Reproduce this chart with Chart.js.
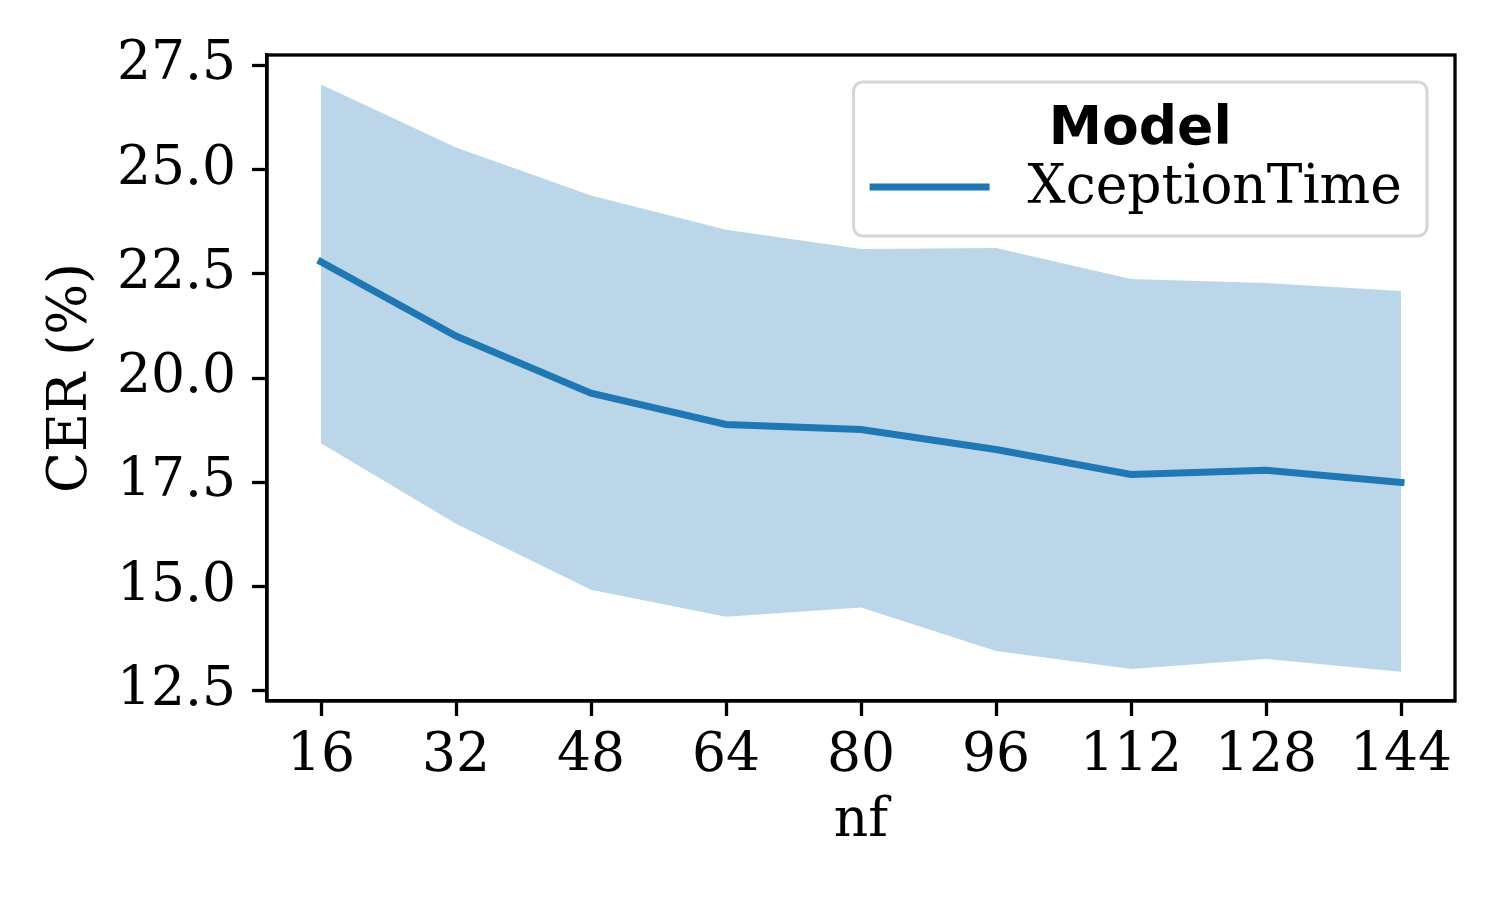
<!DOCTYPE html>
<html>
<head>
<meta charset="utf-8">
<script src="https://cdn.jsdelivr.net/npm/chart.js@4.4.1/dist/chart.umd.min.js"></script>
<style>
  html, body { margin: 0; padding: 0; background: #fff; }
  #wrap { width: 1500px; height: 900px; }
</style>
</head>
<body>
<div id="wrap"><canvas id="cerChart" width="1500" height="900"></canvas></div>
<script>
var nf = [16, 32, 48, 64, 80, 96, 112, 128, 144];
var cerMean = [22.79, 21.01, 19.64, 18.89, 18.77, 18.29, 17.69, 17.79, 17.50];
var cerUpper = [27.04, 25.53, 24.38, 23.56, 23.10, 23.12, 22.38, 22.28, 22.09];
var cerLower = [18.44, 16.51, 14.93, 14.28, 14.50, 13.46, 13.03, 13.27, 12.96];
var yTicks = [12.5, 15.0, 17.5, 20.0, 22.5, 25.0, 27.5];
var seriesName = "XceptionTime";
var legendTitle = "Model";

var serif = '"DejaVu Serif", serif';
var fontPx = 53.5;

function toPoints(values) {
  return nf.map(function (x, i) { return { x: x, y: values[i] }; });
}

// axes frame on top and right side (matplotlib style box)
var frameBox = {
  id: 'frameBox',
  afterDraw: function (chart) {
    var a = chart.chartArea, ctx = chart.ctx;
    ctx.save();
    ctx.lineWidth = 3.3;
    ctx.strokeStyle = '#000';
    ctx.strokeRect(a.left, a.top, a.right - a.left, a.bottom - a.top);
    ctx.restore();
  }
};

// legend box with title, drawn inside the plot, upper right
var boxLegend = {
  id: 'boxLegend',
  afterDatasetsDraw: function (chart) {
    var ctx = chart.ctx, a = chart.chartArea;
    var ds = chart.data.datasets[0];
    ctx.save();
    ctx.font = fontPx + 'px ' + serif;
    var tw = ctx.measureText(ds.label).width;
    var w = 16 + 120 + 38 + tw + 25, h = 154;
    var x = a.right - 28 - w, y = a.top + 27;
    ctx.beginPath();
    ctx.roundRect(x, y, w, h, 9);
    ctx.fillStyle = 'rgba(255,255,255,0.85)';
    ctx.fill();
    ctx.lineWidth = 3;
    ctx.strokeStyle = '#d6d6d6';
    ctx.stroke();

    ctx.fillStyle = '#000';
    ctx.textBaseline = 'middle';
    ctx.font = 'bold ' + fontPx + 'px "DejaVu Sans", sans-serif';
    ctx.textAlign = 'center';
    ctx.fillText(legendTitle, x + w / 2, y + 48);

    ctx.beginPath();
    ctx.moveTo(x + 16, y + 105);
    ctx.lineTo(x + 136, y + 105);
    ctx.lineWidth = ds.borderWidth;
    ctx.strokeStyle = ds.borderColor;
    ctx.stroke();

    ctx.font = fontPx + 'px ' + serif;
    ctx.textAlign = 'left';
    ctx.fillText(ds.label, x + 174, y + 107);
    ctx.restore();
  }
};

var bandColor = 'rgba(31, 119, 180, 0.3)';

new Chart('cerChart', {
  type: 'line',
  data: {
    datasets: [
      {
        label: seriesName,
        data: toPoints(cerMean),
        borderColor: '#1f77b4',
        borderWidth: 7,
        borderCapStyle: 'square',
        pointRadius: 0,
        fill: false,
        tension: 0
      },
      {
        label: 'upper',
        data: toPoints(cerUpper),
        borderWidth: 0,
        pointRadius: 0,
        backgroundColor: bandColor,
        fill: '+1'
      },
      {
        label: 'lower',
        data: toPoints(cerLower),
        borderWidth: 0,
        pointRadius: 0,
        fill: false
      }
    ]
  },
  options: {
    responsive: false,
    animation: false,
    devicePixelRatio: 1,
    layout: { padding: { top: 55, right: 45, bottom: 0, left: 0 } },
    plugins: {
      legend: { display: false },
      tooltip: { enabled: false }
    },
    scales: {
      x: {
        type: 'linear',
        min: 9.6,
        max: 150.4,
        afterBuildTicks: function (scale) {
          scale.ticks = nf.map(function (v) { return { value: v }; });
        },
        afterFit: function (scale) { scale.height = 199; },
        grid: { drawOnChartArea: false, drawTicks: true, tickLength: 15, tickWidth: 3.3, tickColor: '#000' },
        border: { display: true, color: '#000', width: 3.3 },
        ticks: {
          autoSkip: false, maxRotation: 0, padding: 9, color: '#000',
          font: { family: serif, size: fontPx },
          callback: function (v) { return String(v); }
        },
        title: {
          display: true, text: 'nf', color: '#000',
          font: { family: serif, size: fontPx },
          padding: { top: 0, bottom: 46 }
        }
      },
      y: {
        type: 'linear',
        min: 12.26,
        max: 27.75,
        afterBuildTicks: function (scale) {
          scale.ticks = yTicks.map(function (v) { return { value: v }; });
        },
        afterFit: function (scale) { scale.width = 267; },
        grid: { drawOnChartArea: false, drawTicks: true, tickLength: 15, tickWidth: 3.3, tickColor: '#000' },
        border: { display: true, color: '#000', width: 3.3 },
        ticks: {
          padding: 16, color: '#000',
          font: { family: serif, size: fontPx },
          callback: function (v) { return Number(v).toFixed(1); }
        },
        title: {
          display: true, text: 'CER (%)', color: '#000',
          font: { family: serif, size: fontPx },
          padding: { top: 40, bottom: 0 }
        }
      }
    }
  },
  plugins: [boxLegend, frameBox]
});
</script>
</body>
</html>
